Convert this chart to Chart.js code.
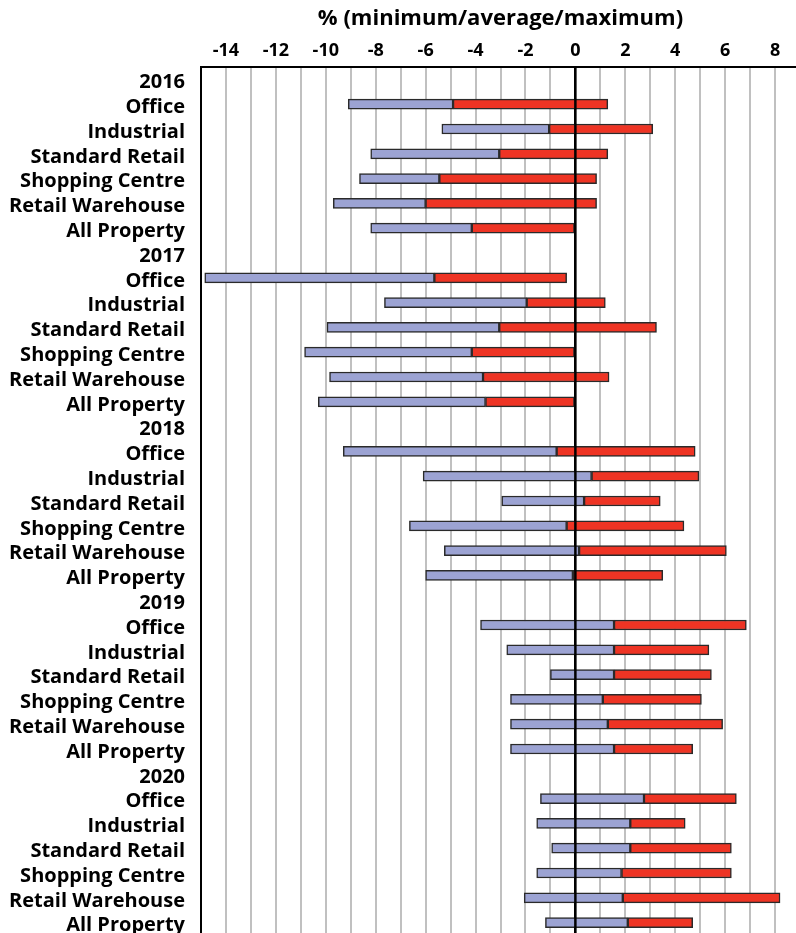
<!DOCTYPE html>
<html>
<head>
<meta charset="utf-8">
<script src="https://cdn.jsdelivr.net/npm/chart.js@4"></script>
<style>
  html, body { margin: 0; padding: 0; background: #fff; overflow: hidden; }
  canvas { display: block; }
</style>
</head>
<body>
<canvas id="myChart" width="802" height="936"></canvas>
<script>
// Catégories
const years = ['2016', '2017', '2018', '2019', '2020'];
const sectors = ['Office', 'Industrial', 'Standard Retail', 'Shopping Centre', 'Retail Warehouse', 'All Property'];

// Valeurs (%), une liste par année, dans l'ordre des secteurs
const min2016 = [-9.1, -5.35, -8.2, -8.65, -9.7, -8.2];
const avg2016 = [-4.9, -1.05, -3.05, -5.45, -6.0, -4.15];
const max2016 = [1.3, 3.1, 1.3, 0.85, 0.85, 0];

const min2017 = [-14.85, -7.65, -9.95, -10.85, -9.85, -10.3];
const avg2017 = [-5.65, -1.95, -3.05, -4.15, -3.7, -3.6];
const max2017 = [-0.35, 1.2, 3.25, 0, 1.35, 0];

const min2018 = [-9.3, -6.1, -2.95, -6.65, -5.25, -6.0];
const avg2018 = [-0.75, 0.65, 0.35, -0.35, 0.15, -0.1];
const max2018 = [4.8, 4.95, 3.4, 4.35, 6.05, 3.5];

const min2019 = [-3.8, -2.75, -1.0, -2.6, -2.6, -2.6];
const avg2019 = [1.55, 1.55, 1.55, 1.1, 1.3, 1.55];
const max2019 = [6.85, 5.35, 5.45, 5.05, 5.9, 4.7];

const min2020 = [-1.4, -1.55, -0.95, -1.55, -2.05, -1.2];
const avg2020 = [2.75, 2.2, 2.2, 1.85, 1.9, 2.1];
const max2020 = [6.45, 4.4, 6.25, 6.25, 8.2, 4.7];

// Axe des x
const xMin = -15;
const xMax = 9;
const xTitle = '% (minimum/average/maximum)';

const mins = [min2016, min2017, min2018, min2019, min2020];
const avgs = [avg2016, avg2017, avg2018, avg2019, avg2020];
const maxs = [max2016, max2017, max2018, max2019, max2020];

// Construire les lignes : l'année seule (sans barre), puis les secteurs
const labels = [];
const lowBars = [];
const highBars = [];
years.forEach(function(year, i) {
    labels.push(year);
    lowBars.push(null);
    highBars.push(null);
    sectors.forEach(function(sector, j) {
        labels.push(sector);
        lowBars.push([mins[i][j], avgs[i][j]]);
        highBars.push([avgs[i][j], maxs[i][j]]);
    });
});

// Ligne du zéro par-dessus les barres
const zeroLine = {
    id: 'zeroLine',
    afterDatasetsDraw: function(chart) {
        const ctx = chart.ctx;
        const area = chart.chartArea;
        const x = chart.scales.x.getPixelForValue(0);
        ctx.save();
        ctx.strokeStyle = '#000';
        ctx.lineWidth = 2.5;
        ctx.beginPath();
        ctx.moveTo(x, area.top);
        ctx.lineTo(x, area.bottom);
        ctx.stroke();
        ctx.restore();
    }
};

const ctx = document.getElementById('myChart').getContext('2d');
new Chart(ctx, {
    type: 'bar',
    data: {
        labels: labels,
        datasets: [{
            label: 'minimum - average',
            data: lowBars,
            backgroundColor: '#9ca3d3',
            borderColor: '#2a2a2a',
            borderWidth: 1.5,
            borderSkipped: false,
            barThickness: 10
        }, {
            label: 'average - maximum',
            data: highBars,
            backgroundColor: '#ee3424',
            borderColor: '#2a2a2a',
            borderWidth: 1.5,
            borderSkipped: false,
            barThickness: 10
        }]
    },
    options: {
        indexAxis: 'y',
        responsive: false,
        animation: false,
        grouped: false,
        layout: { padding: { left: 0, right: 2, top: 0, bottom: 1 } },
        plugins: {
            legend: { display: false },
            tooltip: { enabled: false }
        },
        scales: {
            x: {
                position: 'top',
                min: xMin,
                max: xMax,
                afterFit: function(scale) {
                    scale.height = 67;
                    scale.paddingLeft = 0;
                    scale.paddingRight = 0;
                },
                ticks: {
                    stepSize: 1,
                    autoSkip: false,
                    maxRotation: 0,
                    padding: 5,
                    color: '#000',
                    font: { family: 'Open Sans', size: 18, weight: 'bold' },
                    callback: function(value) {
                        return value % 2 === 0 ? String(value) : '';
                    }
                },
                grid: {
                    drawTicks: false,
                    lineWidth: 2,
                    color: function(c) {
                        return c.tick && c.tick.value === 0 ? '#000' : '#c0c0c0';
                    }
                },
                border: { display: true, color: '#000', width: 2 },
                title: {
                    display: true,
                    text: xTitle,
                    color: '#000',
                    padding: { top: 6, bottom: 0 },
                    font: { family: 'Open Sans', size: 22, weight: 'bold' }
                }
            },
            y: {
                afterFit: function(scale) {
                    scale.width = 201;
                    scale.paddingTop = 0;
                    scale.paddingBottom = 0;
                },
                ticks: {
                    autoSkip: false,
                    padding: 16,
                    labelOffset: 3,
                    color: '#000',
                    font: { family: 'Open Sans', size: 20, weight: 'bold' }
                },
                grid: { display: false, drawTicks: false },
                border: { display: true, color: '#000', width: 2 }
            }
        }
    },
    plugins: [zeroLine]
});
</script>
</body>
</html>
